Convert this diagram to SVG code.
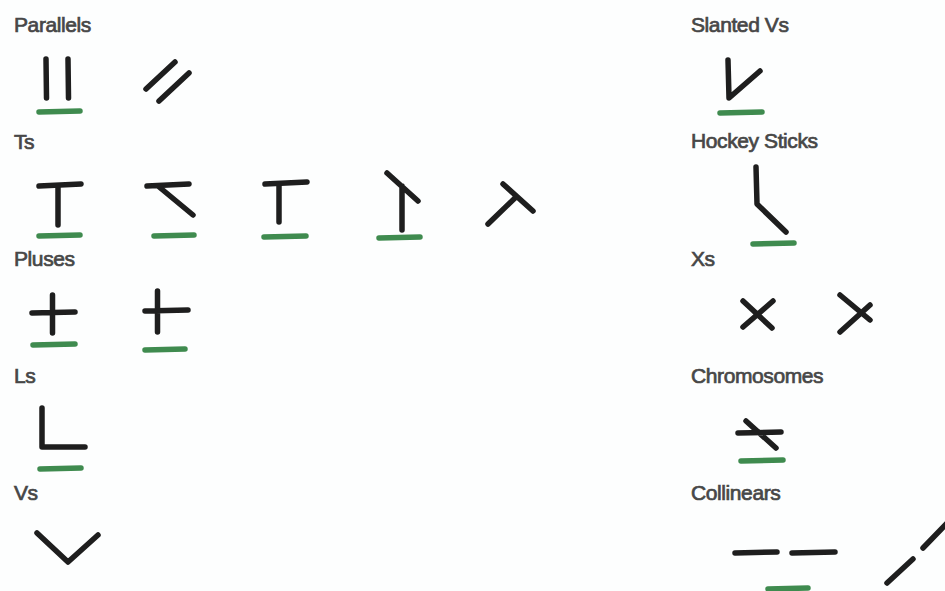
<svg xmlns="http://www.w3.org/2000/svg" width="945" height="591" viewBox="0 0 945 591">
<style>
.bg{fill:#fdfefe}
.lbl{font-family:"Liberation Sans",Arial,sans-serif;font-size:21px;fill:#474747;stroke:#474747;stroke-width:0.7;letter-spacing:-0.4px}
.k{fill:none;stroke:#1e1e1e;stroke-width:5.5;stroke-linecap:round;stroke-linejoin:round}
.g{fill:none;stroke:#3f8b4f;stroke-width:5.5;stroke-linecap:round}
</style>
<rect class="bg" x="0" y="0" width="945" height="591"/>
<g id="labels">
<text class="lbl" x="14" y="32">Parallels</text>
<text class="lbl" x="14" y="149">Ts</text>
<text class="lbl" x="14" y="266">Pluses</text>
<text class="lbl" x="14" y="383">Ls</text>
<text class="lbl" x="14" y="500">Vs</text>
<text class="lbl" x="691" y="32">Slanted Vs</text>
<text class="lbl" x="691" y="148">Hockey Sticks</text>
<text class="lbl" x="691" y="266">Xs</text>
<text class="lbl" x="691" y="383">Chromosomes</text>
<text class="lbl" x="691" y="500">Collinears</text>
</g>
<g id="parallels-1">
<path class="k" d="M46,59 L46.5,98 M68,59 L68.5,98"/>
<path class="g" d="M39,112 L80,111"/>
</g>
<g id="parallels-2">
<path class="k" d="M146,89 L175,62 M159,101 L189,73"/>
</g>
<g id="ts-1">
<path class="k" d="M39,186 L81,184 M58,186 L58,225"/>
<path class="g" d="M39,236 L80,235"/>
</g>
<g id="ts-2">
<path class="k" d="M147,186 L189,184 M158,186 L193,215"/>
<path class="g" d="M154,236 L194,235"/>
</g>
<g id="ts-3">
<path class="k" d="M265,184 L307,182 M279,184 L279,222"/>
<path class="g" d="M264,237 L306,236"/>
</g>
<g id="ts-4">
<path class="k" d="M387,173 L418,201 M402,186 L402,230"/>
<path class="g" d="M379,238 L420,237"/>
</g>
<g id="ts-5">
<path class="k" d="M503,184 L533,211 M488,224 L516,197"/>
</g>
<g id="pluses-1">
<path class="k" d="M32,313 L75,312 M52.5,295 L52.5,333"/>
<path class="g" d="M33,345 L75,344"/>
</g>
<g id="pluses-2">
<path class="k" d="M145,311 L188,310 M157.5,291 L157.5,332"/>
<path class="g" d="M145,350 L185,349"/>
</g>
<g id="ls-1">
<path class="k" d="M42,408 L42,447 L85,447"/>
<path class="g" d="M40,469 L81,468"/>
</g>
<g id="vs-1">
<path class="k" d="M37,533 L68,562 L98,535"/>
</g>
<g id="slanted-vs-1">
<path class="k" d="M728,60 L729,98 L760,71"/>
<path class="g" d="M720,113 L762,112"/>
</g>
<g id="hockey-sticks-1">
<path class="k" d="M756,167 L757,204 L786,232"/>
<path class="g" d="M753,244 L794,243"/>
</g>
<g id="xs-1">
<path class="k" d="M743,301 L772,328 M743,327 L773,301"/>
</g>
<g id="xs-2">
<path class="k" d="M840,295 L870,320 M840,332 L870,305"/>
</g>
<g id="chromosomes-1">
<path class="k" d="M738,433 L781,432 M746,421 L776,448"/>
<path class="g" d="M741,461 L783,460"/>
</g>
<g id="collinears-1">
<path class="k" d="M735,553 L777,552 M792,553 L835,552"/>
<path class="g" d="M768,589 L808,588"/>
</g>
<g id="collinears-2">
<path class="k" d="M887,583 L913,559 M923,548 L950,520"/>
</g>
</svg>
